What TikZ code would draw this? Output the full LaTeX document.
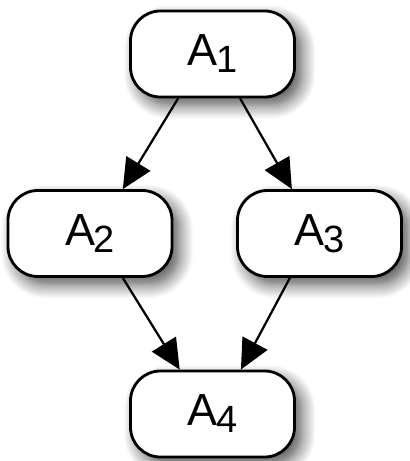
\documentclass[tikz,border=0pt]{standalone}
\usepackage{fontspec}
\setmainfont{Liberation Sans}
\usetikzlibrary{arrows.meta,shadows.blur}

% label with a large subscript
\newcommand{\actname}[1]{{\fontsize{32}{38}\selectfont A}\kern-1pt\raisebox{-5pt}{\fontsize{27}{32}\selectfont #1}}

\tikzset{
  act/.style={draw=black, line width=2pt, fill=white, rounded corners=0.75cm,
    minimum width=4.1cm, minimum height=2.15cm, inner sep=0pt,
    blur shadow={shadow xshift=0.18cm, shadow yshift=-0.2cm, shadow blur steps=10,
      shadow blur radius=0.35cm, shadow opacity=70}},
  flow/.style={line width=1.6pt, -{Triangle[length=0.75cm, width=0.7cm]}}
}

\begin{document}
\begin{tikzpicture}[x=0.025cm, y=-0.025cm]

\useasboundingbox (0,0) rectangle (409,461);

% Activities
\node[act] (A1) at (212.5,54)  {\actname{1}};
\node[act] (A2) at (90,233.5)  {\actname{2}};
\node[act] (A3) at (319.5,233.5) {\actname{3}};
\node[act] (A4) at (212.5,414) {\actname{4}};

% Arrows
\draw[flow] ([xshift=-0.86cm]A1.south) -- ([xshift=0.82cm]A2.north);
\draw[flow] ([xshift=0.69cm]A1.south) -- ([xshift=-0.69cm]A3.north);
\draw[flow] ([xshift=0.82cm]A2.south) -- ([xshift=-0.82cm]A4.north);
\draw[flow] ([xshift=-0.74cm]A3.south) -- ([xshift=0.71cm]A4.north);

\end{tikzpicture}
\end{document}
